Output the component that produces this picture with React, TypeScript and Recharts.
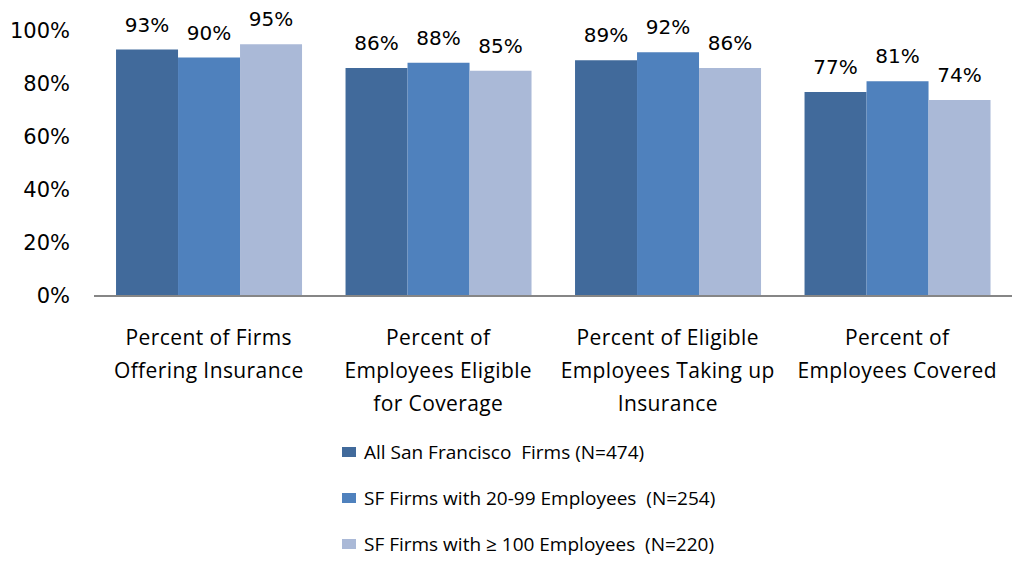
import { BarChart, Bar, XAxis, YAxis, Legend, LabelList } from 'recharts';

const categories = [
  'Percent of Firms\nOffering Insurance',
  'Percent of\nEmployees Eligible\nfor Coverage',
  'Percent of Eligible\nEmployees Taking up\nInsurance',
  'Percent of\nEmployees Covered',
];
const allFirms = [93, 86, 89, 77];
const firms20to99 = [90, 88, 92, 81];
const firms100plus = [95, 85, 86, 74];
const yTicks = [0, 20, 40, 60, 80, 100];

const seriesNames = [
  'All San Francisco  Firms (N=474)',
  'SF Firms with 20-99 Employees  (N=254)',
  'SF Firms with \u2265 100 Employees  (N=220)',
];
const colors = ['#416a9b', '#4f81bd', '#aab9d7'];

const data = categories.map((c, i) => ({
  category: c,
  all: allFirms[i],
  mid: firms20to99[i],
  big: firms100plus[i],
}));

const TEXT_FONT = "'Open Sans', 'Noto Sans', sans-serif";
const NUM_FONT = "'DejaVu Sans', sans-serif";

function CategoryTick(props: any) {
  const { x, y, payload } = props;
  const lines = String(payload.value).split('\n');
  return (
    <text x={x} y={y} textAnchor="middle" fontFamily={TEXT_FONT} fontSize={21} letterSpacing={0.4} fill="#000">
      {lines.map((l: string, i: number) => (
        <tspan key={i} x={x} dy={i === 0 ? 41 : 33}>{l}</tspan>
      ))}
    </text>
  );
}

function LegendBox() {
  return (
    <div style={{ fontFamily: TEXT_FONT, fontSize: 19, color: '#000' }}>
      {seriesNames.map((n, i) => (
        <div key={n} style={{ display: 'flex', alignItems: 'center', height: 46, whiteSpace: 'pre' }}>
          <span style={{ display: 'inline-block', width: 14, height: 10, background: colors[i], marginRight: 8 }} />
          {n}
        </div>
      ))}
    </div>
  );
}

const pct = (v: any) => `${v}%`;

export default function App() {
  return (
    <div style={{ position: 'absolute', left: 0, top: 0, background: '#fff' }}>
      <BarChart
        width={1012}
        height={561}
        data={data}
        margin={{ top: 31, right: 0, left: 0, bottom: 165 }}
        barCategoryGap="9.6%"
        barGap={0}
      >
        <XAxis
          dataKey="category"
          height={100}
          interval={0}
          tickLine={false}
          axisLine={{ stroke: '#868686', strokeWidth: 2 }}
          tick={<CategoryTick />}
        />
        <YAxis
          width={94}
          domain={[0, 100]}
          ticks={yTicks}
          interval={0}
          axisLine={false}
          tickLine={false}
          tickSize={0}
          tickMargin={24}
          tickFormatter={pct}
          tick={{ fill: '#000', fontSize: 21, fontFamily: NUM_FONT }}
        />
        <Legend
          layout="vertical"
          align="center"
          verticalAlign="middle"
          wrapperStyle={{ position: 'absolute', left: 342, top: 429, width: 480 }}
          content={() => <LegendBox />}
        />
        <Bar dataKey="all" fill={colors[0]} isAnimationActive={false}>
          <LabelList dataKey="all" position="top" offset={18} formatter={pct} fill="#000" fontSize={20} fontFamily={NUM_FONT} />
        </Bar>
        <Bar dataKey="mid" fill={colors[1]} isAnimationActive={false}>
          <LabelList dataKey="mid" position="top" offset={18} formatter={pct} fill="#000" fontSize={20} fontFamily={NUM_FONT} />
        </Bar>
        <Bar dataKey="big" fill={colors[2]} isAnimationActive={false}>
          <LabelList dataKey="big" position="top" offset={18} formatter={pct} fill="#000" fontSize={20} fontFamily={NUM_FONT} />
        </Bar>
      </BarChart>
    </div>
  );
}
